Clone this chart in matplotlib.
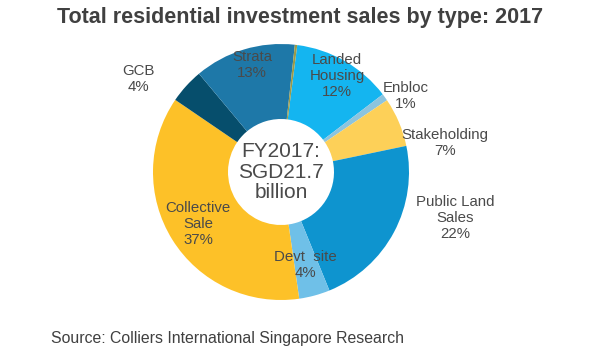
import matplotlib.pyplot as plt

plt.rcParams['font.family'] = ['Liberation Sans', 'DejaVu Sans']

types = ['Landed\nHousing', 'Enbloc', 'Stakeholding', 'Public Land\nSales',
         'Devt  site', 'Collective\nSale', 'GCB', 'Strata', '']
shares = [12.6, 0.9, 6.2, 22.1, 3.9, 36.8, 4.4, 12.8, 0.3]
pct_labels = ['12%', '1%', '7%', '22%', '4%', '37%', '4%', '13%', '']
colors = ['#14b5f0', '#8cc4de', '#fdd058', '#0e94cf', '#6fc0e8',
          '#fdc128', '#064e6c', '#1e78a8', '#9a9a48']

# label anchors in pixels from the top-left corner of the figure
label_pos = [(337, 76), (406, 96), (445, 143), (455, 218),
             (305, 265), (198, 224), (138, 79), (252, 65), None]

W, H = 600, 360
cx, cy, R, r_in = 281, 172, 128, 53

fig = plt.figure(figsize=(6, 3.6), dpi=100)
ax = fig.add_axes([0, 0, 1, 1])
ax.pie(shares, colors=colors, startangle=82.7, counterclock=False,
       radius=R, center=(cx, H - cy),
       wedgeprops=dict(width=R - r_in, linewidth=0))
ax.set_xlim(0, W)
ax.set_ylim(0, H)
ax.set_aspect('equal')
ax.axis('off')

for name, pct, pos in zip(types, pct_labels, label_pos):
    if pos is None:
        continue
    ax.text(pos[0], H - pos[1], name + '\n' + pct, ha='center', va='center',
            fontsize=10.8, color='#4a4a4a', linespacing=1.15)

ax.text(cx, H - cy, 'FY2017:\nSGD21.7\nbillion', ha='center', va='center',
        fontsize=15, color='#4a4a4a', linespacing=1.1)

fig.text(0.5, 1 - 18 / H, 'Total residential investment sales by type: 2017',
         ha='center', va='center', fontsize=15.5, fontweight='bold', color='#404040')
fig.text(51 / W, 1 - 339 / H, 'Source: Colliers International Singapore Research',
         ha='left', va='center', fontsize=11.4, color='#404040')

fig.savefig('out.png', dpi=100)
